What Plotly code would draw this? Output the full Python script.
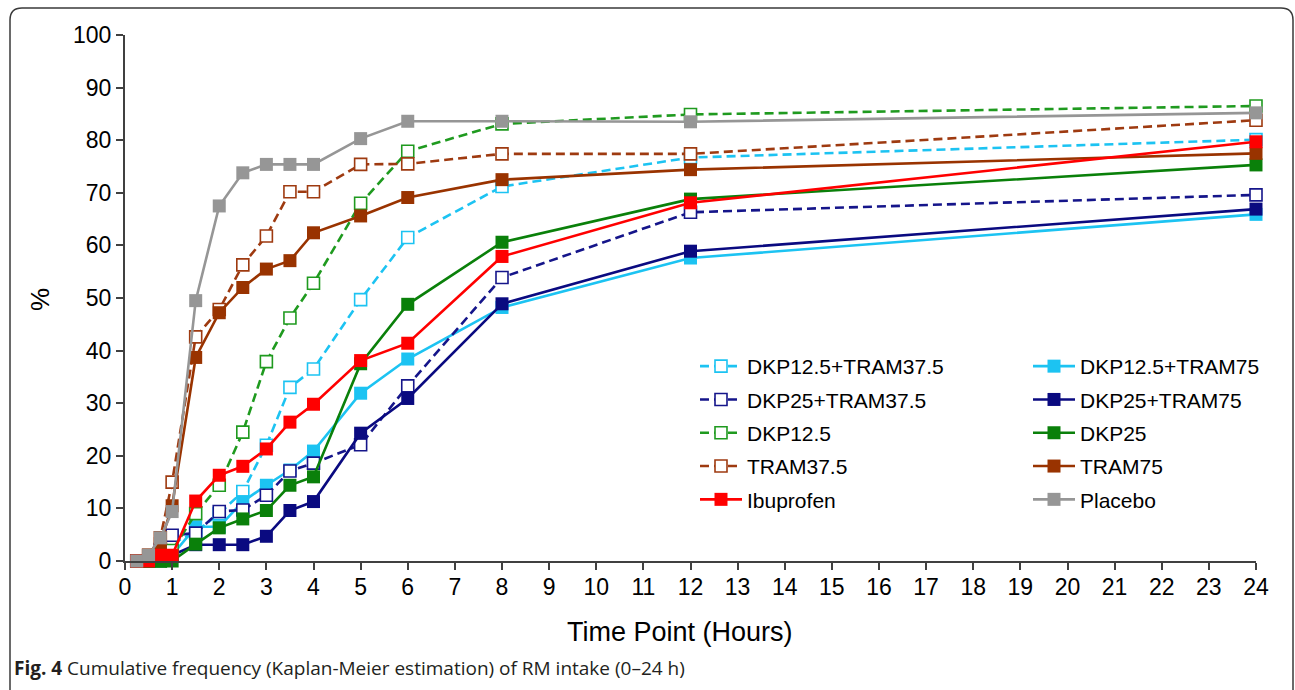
import plotly.graph_objects as go

# ---------------- data ----------------
hours = [0.25, 0.5, 0.75, 1, 1.5, 2, 2.5, 3, 3.5, 4, 5, 6, 8, 12, 24]

dkp125_tram375 = [0, 0, 1.1, 3.3, 5.5, 9.0, 13.2, 22.0, 33.0, 36.5, 49.7, 61.5, 71.2, 76.7, 80.1]
dkp125_tram75 = [0, 0, 0, 1.1, 6.5, 6.5, 11.3, 14.4, 17.3, 20.9, 31.9, 38.4, 48.2, 57.6, 65.9]
dkp25_tram375 = [0, 0, 2.2, 4.9, 5.3, 9.4, 9.7, 12.5, 17.1, 18.6, 22.1, 33.3, 53.9, 66.3, 69.6]
dkp25_tram75 = [0, 0, 0, 1.1, 3.1, 3.1, 3.1, 4.7, 9.6, 11.3, 24.3, 30.9, 48.9, 58.9, 66.9]
dkp125 = [0, 0, 0, 2.0, 9.0, 14.4, 24.5, 37.9, 46.2, 52.8, 68.0, 77.9, 83.1, 84.9, 86.5]
dkp25 = [0, 0, 0, 0, 3.2, 6.3, 8.0, 9.6, 14.4, 16.0, 37.5, 48.8, 60.6, 68.8, 75.3]
tram375 = [0, 1.1, 4.4, 15.0, 42.6, 47.8, 56.3, 61.8, 70.2, 70.2, 75.4, 75.5, 77.4, 77.4, 83.8]
tram75 = [0, 1.1, 3.3, 10.5, 38.7, 47.2, 52.0, 55.5, 57.1, 62.4, 65.6, 69.1, 72.5, 74.4, 77.5]
ibuprofen = [0, 0, 1.1, 1.1, 11.4, 16.3, 18.0, 21.3, 26.4, 29.8, 38.1, 41.4, 57.9, 68.1, 79.7]
placebo = [0, 1.1, 4.4, 9.4, 49.5, 67.5, 73.8, 75.4, 75.4, 75.4, 80.3, 83.6, 83.6, 83.5, 85.2]

x_ticks = list(range(0, 25))
y_ticks = list(range(0, 101, 10))
grid_vals = list(range(10, 100, 10))

# (name, values, color, open marker?, legend column)
series = [
    ("DKP12.5+TRAM37.5", dkp125_tram375, "#1cc3f2", True, "legend"),
    ("DKP12.5+TRAM75", dkp125_tram75, "#1cc3f2", False, "legend2"),
    ("DKP25+TRAM37.5", dkp25_tram375, "#15158a", True, "legend"),
    ("DKP25+TRAM75", dkp25_tram75, "#0a0a80", False, "legend2"),
    ("DKP12.5", dkp125, "#1f9a1f", True, "legend"),
    ("DKP25", dkp25, "#0a800a", False, "legend2"),
    ("TRAM37.5", tram375, "#9e3a10", True, "legend"),
    ("TRAM75", tram75, "#993300", False, "legend2"),
    ("Ibuprofen", ibuprofen, "#ff0000", False, "legend"),
    ("Placebo", placebo, "#969696", False, "legend2"),
]

FONT = "Liberation Sans, Arial, sans-serif"

fig = go.Figure()
for i, (name, vals, col, is_open, leg) in enumerate(series):
    if is_open:
        marker = dict(symbol="square", size=12, color="white",
                      line=dict(color=col, width=1.6))
        line = dict(color=col, width=2.6, dash="9px,5px")
    else:
        marker = dict(symbol="square", size=13, color=col, line=dict(width=0))
        line = dict(color=col, width=2.6)
    fig.add_trace(go.Scatter(
        x=hours, y=vals, name=name, mode="lines+markers",
        line=line, marker=marker, cliponaxis=False,
        legend=leg, legendgroup=name,
    ))

L, R, T, B = 125, 39, 35, 129
W, H = 1295, 690
pw, ph = W - L - R, H - T - B


def px_x(X):
    return (X - L) / pw


def px_y(Y):
    return (H - B - Y) / ph


# rounded frame around the figure
lx, rx, ty, by = px_x(10), px_x(1293), px_y(8), px_y(720)
rxp, ryp = 12 / pw, 12 / ph
frame_path = (f"M{lx},{by} L{lx},{ty - ryp} Q{lx},{ty} {lx + rxp},{ty} "
              f"L{rx - rxp},{ty} Q{rx},{ty} {rx},{ty - ryp} L{rx},{by}")

legend_common = dict(
    font=dict(family=FONT, size=21, color="#000000"),
    bgcolor="rgba(255,255,255,0)", borderwidth=0, tracegroupgap=3,
    itemwidth=42, yanchor="top", xanchor="left", traceorder="grouped",
)

fig.update_layout(
    width=W, height=H,
    margin=dict(l=L, r=R, t=T, b=B, pad=0),
    paper_bgcolor="white", plot_bgcolor="white",
    font=dict(family=FONT, size=23, color="#000000"),
    showlegend=True,
    legend=dict(x=px_x(695), y=px_y(346), **legend_common),
    legend2=dict(x=px_x(1028), y=px_y(346), **legend_common),
    xaxis=dict(
        range=[0, 24], tickmode="array", tickvals=x_ticks,
        ticktext=[str(v) for v in x_ticks],
        showgrid=False, zeroline=False,
        showline=True, linecolor="#404040", linewidth=2,
        ticks="outside", ticklen=7, tickwidth=1.5, tickcolor="#404040",
        tickfont=dict(family=FONT, size=23, color="#000000"),
        ticklabelstandoff=-3,
    ),
    yaxis=dict(
        range=[0, 100], tickmode="array", tickvals=y_ticks,
        showgrid=False, zeroline=False,
        showline=True, linecolor="#404040", linewidth=2,
        ticks="outside", ticklen=7, tickwidth=1.5, tickcolor="#404040",
        tickfont=dict(family=FONT, size=23, color="#000000"),
        ticklabelstandoff=0,
    ),
    yaxis2=dict(
        overlaying="y", range=[0, 100], tickmode="array", tickvals=grid_vals,
        showgrid=True, gridcolor="#d4d4d4", gridwidth=1.5,
        showticklabels=False, ticks="", showline=False, zeroline=False,
    ),
    shapes=[
        dict(type="path", xref="paper", yref="paper", path=frame_path,
             line=dict(color="#3a3a3a", width=1.5), layer="above"),
        # white legend box hiding the gridlines behind the legend
        dict(type="rect", xref="paper", yref="paper",
             x0=px_x(640), x1=px_x(1262), y0=px_y(515), y1=px_y(330),
             fillcolor="white", line=dict(width=0), layer="between"),
    ],
    annotations=[
        dict(text="Time Point (Hours)", xref="paper", yref="paper",
             x=px_x(680), y=px_y(632), showarrow=False,
             font=dict(family=FONT, size=27, color="#000000"),
             xanchor="center", yanchor="middle"),
        dict(text="%", xref="paper", yref="paper", textangle=-90,
             x=px_x(40), y=px_y(300), showarrow=False,
             font=dict(family=FONT, size=26, color="#000000"),
             xanchor="center", yanchor="middle"),
        dict(text="<b>Fig. 4</b> Cumulative frequency (Kaplan-Meier estimation) of RM intake (0–24 h)",
             xref="paper", yref="paper", x=px_x(12), y=px_y(668),
             showarrow=False, xanchor="left", yanchor="middle",
             font=dict(family="Open Sans, Noto Sans, sans-serif", size=19, color="#231f20")),
    ],
)

fig.write_html("out.html", config={"displayModeBar": False},
               post_script="document.body.style.margin='0px';document.body.style.overflow='hidden';")
